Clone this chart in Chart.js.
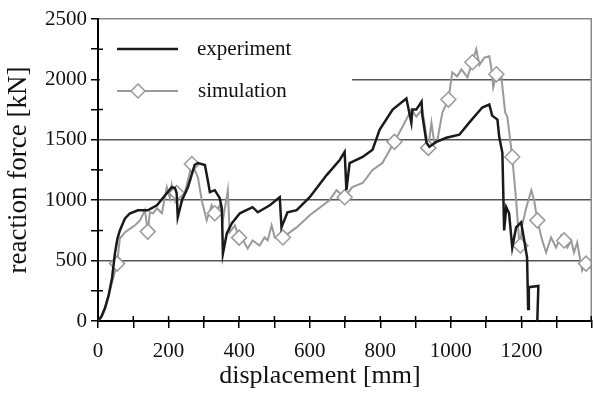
<!DOCTYPE html>
<html>
<head>
<meta charset="utf-8">
<script src="https://cdn.jsdelivr.net/npm/chart.js@4.4.0/dist/chart.umd.min.js"></script>
<style>
  html, body { margin: 0; padding: 0; background: #fff; }
  #wrap { width: 593px; height: 403px; }
</style>
</head>
<body>
<div id="wrap"><canvas id="force_chart" width="593" height="403"></canvas></div>
<script>
// experiment: displacement [mm] / reaction force [kN]
var expDisp = [0, 10, 20, 30, 40, 48, 55, 62, 76, 90, 113, 141, 167, 195, 209, 218, 223, 226, 238, 255,
  274, 283, 303, 311, 317, 331, 345, 351, 354, 365, 379, 402, 438, 453, 487, 515, 520, 537, 563, 600,
  648, 685, 699, 704, 713, 750, 778, 798, 835, 874, 888, 891, 902, 917, 919, 931, 939, 959, 987, 1024,
  1052, 1089, 1109, 1117, 1132, 1137, 1146, 1151, 1157, 1165, 1174, 1185, 1199, 1208, 1216, 1219, 1221, 1248, 1245];
var expForce = [0, 40, 110, 210, 360, 560, 680, 750, 847, 890, 917, 917, 958, 1058, 1108, 1100, 1058, 858, 1000, 1108,
  1292, 1308, 1292, 1167, 1067, 1083, 1017, 933, 558, 725, 808, 892, 942, 900, 958, 1025, 775, 900, 917, 1025,
  1208, 1333, 1400, 1083, 1308, 1358, 1417, 1583, 1750, 1842, 1642, 1750, 1750, 1817, 1708, 1475, 1442, 1483, 1517, 1542,
  1642, 1767, 1792, 1700, 1667, 1525, 1392, 750, 942, 892, 608, 775, 817, 667, 525, 100, 280, 290, 0];

// simulation
var simDisp = [0, 10, 20, 28, 40, 54, 62, 76, 96, 105, 119, 133, 141, 147, 156, 167, 181, 195, 204, 209,
  218, 223, 232, 240, 255, 266, 274, 283, 294, 308, 322, 331, 345, 354, 368, 373, 388, 400, 407, 424,
  438, 458, 472, 481, 492, 501, 524, 563, 600, 656, 676, 699, 721, 750, 778, 806, 840, 863, 888, 902,
  919, 931, 934, 936, 945, 953, 962, 976, 993, 1004, 1018, 1030, 1047, 1061, 1072, 1081, 1095, 1109, 1114, 1120,
  1129, 1143, 1154, 1160, 1174, 1185, 1194, 1197, 1202, 1214, 1228, 1236, 1245, 1259, 1270, 1284, 1298, 1313, 1321, 1330,
  1341, 1349, 1358, 1372, 1383, 1395, 1400];
var simForce = [0, 30, 100, 192, 320, 475, 683, 733, 775, 792, 833, 917, 740, 900, 892, 933, 892, 1108, 1017, 1125,
  1000, 1060, 1058, 1000, 1167, 1300, 1250, 1192, 1000, 833, 958, 892, 958, 833, 1083, 733, 792, 690, 692, 600,
  667, 625, 692, 667, 792, 692, 692, 775, 875, 1000, 1083, 1025, 1108, 1142, 1250, 1308, 1483, 1608, 1750, 1692,
  1750, 1525, 1417, 1433, 1642, 1475, 1500, 1725, 1833, 2058, 2025, 2083, 2017, 2142, 2250, 2120, 2180, 2192, 2108, 1933,
  2042, 2025, 1725, 1692, 1358, 1000, 642, 625, 792, 942, 1083, 1000, 833, 667, 567, 692, 608, 708, 667, 608,
  667, 567, 650, 417, 475, 442, 460];
// displacements where the simulation curve carries a diamond marker
var simMarkerAt = [54, 141, 223, 266, 331, 400, 524, 699, 840, 936, 993, 1061, 1129, 1174, 1197, 1245, 1321, 1383];

var seriesNames = ["experiment", "simulation"];
var yTicks = [0, 500, 1000, 1500, 2000, 2500];
var xLabelTicks = [0, 200, 400, 600, 800, 1000, 1200];
var xTitle = "displacement [mm]";

function toPoints(xs, ys) {
  return xs.map(function(x, i){ return {x: x, y: ys[i]}; });
}

var FONT = "'Liberation Serif', 'Times New Roman', serif";
var BLACK = "#1a1a1a";
var GREY = "#9a9a9a";

// white legend box inside the plot, drawn over the grid but under the curves
var legendBox = {
  id: 'legendBox',
  beforeDatasetsDraw: function(chart){
    var ctx = chart.ctx, a = chart.chartArea;
    ctx.save();
    ctx.fillStyle = '#fff';
    ctx.fillRect(a.left + 2, a.top + 3, 252, 88);
    ctx.restore();
  },
  afterDraw: function(chart){
    var ctx = chart.ctx, a = chart.chartArea;
    var x0 = a.left + 19, x1 = a.left + 80;
    var y1 = a.top + 30, y2 = a.top + 72;
    ctx.save();
    ctx.lineWidth = 2.5;
    ctx.strokeStyle = BLACK;
    ctx.beginPath(); ctx.moveTo(x0, y1); ctx.lineTo(x1, y1); ctx.stroke();
    ctx.lineWidth = 2;
    ctx.strokeStyle = GREY;
    ctx.beginPath(); ctx.moveTo(x0, y2); ctx.lineTo(x1, y2); ctx.stroke();
    var cx = a.left + 40, r = 7;
    ctx.fillStyle = '#fff';
    ctx.lineWidth = 1.5;
    ctx.beginPath();
    ctx.moveTo(cx, y2 - r); ctx.lineTo(cx + r, y2); ctx.lineTo(cx, y2 + r); ctx.lineTo(cx - r, y2);
    ctx.closePath(); ctx.fill(); ctx.stroke();
    ctx.fillStyle = '#111';
    ctx.font = "21px " + FONT;
    ctx.textBaseline = 'middle';
    ctx.fillText(seriesNames[0], a.left + 99, y1);
    ctx.fillText(seriesNames[1], a.left + 100, y2);
    ctx.restore();
  }
};

// inner halves of the tick marks, right frame line and the x axis title
var axisExtras = {
  id: 'axisExtras',
  afterDatasetsDraw: function(chart){
    var ctx = chart.ctx, xs = chart.scales.x, ys = chart.scales.y;
    ctx.save();
    ctx.strokeStyle = '#8a8a8a';
    ctx.lineWidth = 1.5;
    ctx.beginPath();
    ctx.moveTo(xs.right - 0.75, ys.top); ctx.lineTo(xs.right - 0.75, ys.bottom);
    ctx.stroke();
    ctx.strokeStyle = '#000';
    ctx.beginPath();
    xs.ticks.forEach(function(t){
      if (t.value === 0) return;
      var px = Math.min(xs.getPixelForValue(t.value), xs.right - 0.75);
      ctx.moveTo(px, ys.bottom); ctx.lineTo(px, ys.bottom - 5);
    });
    ys.ticks.forEach(function(t){
      if (t.value % 500 === 0) return;
      var py = ys.getPixelForValue(t.value);
      ctx.moveTo(xs.left, py); ctx.lineTo(xs.left + 5, py);
    });
    ctx.stroke();
    ctx.fillStyle = '#111';
    ctx.font = "26px " + FONT;
    ctx.textAlign = 'center';
    ctx.textBaseline = 'middle';
    ctx.fillText(xTitle, 320, 376);
    ctx.restore();
  }
};

var ctx = document.getElementById("force_chart");
var forceChart = new Chart(ctx, {
  type: 'line',
  data: {
    datasets: [{
      label: seriesNames[1],
      data: toPoints(simDisp, simForce),
      borderColor: GREY,
      borderWidth: 2,
      pointStyle: 'rectRot',
      pointRadius: function(c){
        var p = c.raw;
        return (p && simMarkerAt.indexOf(p.x) >= 0) ? 7.5 : 0;
      },
      pointBackgroundColor: '#fff',
      pointBorderColor: GREY,
      pointBorderWidth: 1.5,
      tension: 0,
      order: 2
    }, {
      label: seriesNames[0],
      data: toPoints(expDisp, expForce),
      borderColor: BLACK,
      borderWidth: 2.5,
      pointRadius: 0,
      tension: 0,
      order: 1
    }]
  },
  options: {
    responsive: false,
    animation: false,
    events: [],
    layout: { padding: { top: 19, right: 1, left: 0, bottom: 0 } },
    plugins: {
      legend: { display: false },
      tooltip: { enabled: false },
      title: { display: false }
    },
    scales: {
      x: {
        type: 'linear',
        min: 0,
        max: 1400,
        afterFit: function(s){ s.height = 82; s.paddingLeft = 0; s.paddingRight = 0; },
        border: { color: '#000', width: 2 },
        grid: {
          color: 'rgba(0,0,0,0)',
          tickColor: '#000',
          tickLength: 7,
          lineWidth: 1.5
        },
        ticks: {
          stepSize: 100,
          autoSkip: false,
          maxRotation: 0,
          padding: 11,
          color: '#111',
          font: { family: FONT, size: 21 },
          callback: function(v){ return xLabelTicks.indexOf(v) >= 0 ? String(v) : ''; }
        },
        title: { display: false }
      },
      y: {
        min: 0,
        max: 2500,
        afterFit: function(s){ s.width = 98; },
        border: { color: '#000', width: 2 },
        grid: {
          color: function(c){
            var v = c.tick ? c.tick.value : -1;
            if (v === 2500) return '#8a8a8a';
            return (v > 0 && v % 500 === 0) ? '#555' : 'rgba(0,0,0,0)';
          },
          tickColor: '#000',
          tickLength: 7,
          lineWidth: 1.5
        },
        ticks: {
          stepSize: 250,
          autoSkip: false,
          padding: 4,
          color: '#111',
          font: { family: FONT, size: 21 },
          callback: function(v){ return yTicks.indexOf(v) >= 0 ? String(v) : ''; }
        },
        title: {
          display: true,
          text: 'reaction force [kN]',
          color: '#111',
          font: { family: FONT, size: 27 },
          padding: { top: 3, bottom: 0 }
        }
      }
    }
  },
  plugins: [legendBox, axisExtras]
});
</script>
</body>
</html>
